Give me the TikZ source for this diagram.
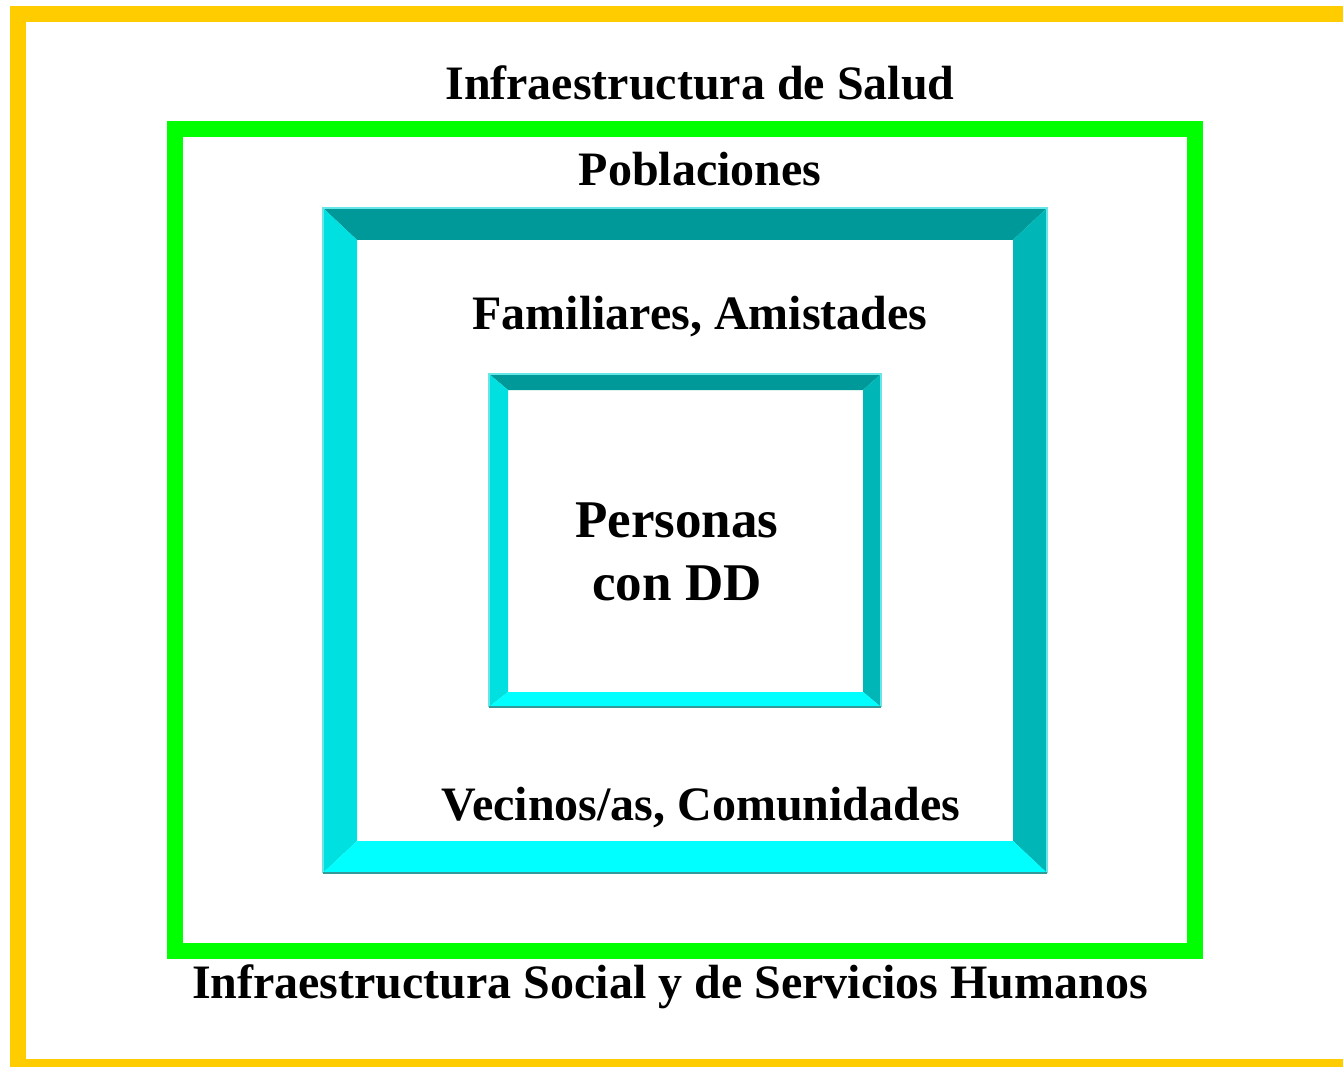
\documentclass[tikz,border=0pt]{standalone}
\usepackage{fontspec}
\setmainfont{Liberation Serif}
\definecolor{marco}{HTML}{FFCC00}
\definecolor{verde}{HTML}{00FF00}
\definecolor{cyarriba}{HTML}{009999}
\definecolor{cyizq}{HTML}{00E0E0}
\definecolor{cyder}{HTML}{00B6B6}
\definecolor{cyabajo}{HTML}{00FFFF}
\definecolor{bordeclaro}{HTML}{66E6E6}
\definecolor{bordeoscuro}{HTML}{339999}
\tikzset{
    rotulo/.style={font=\bfseries\fontsize{48}{56}\selectfont, inner sep=0pt, anchor=base},
    rotulogrande/.style={font=\bfseries\fontsize{53}{63}\selectfont, inner sep=0pt, anchor=base}
}

\begin{document}
\begin{tikzpicture}[x=1pt, y=-1pt]
        \useasboundingbox (0,0) rectangle (1343,1067);
        \clip (0,0) rectangle (1343,1067);
        \fill[white] (0,0) rectangle (1343,1067);

        % marcos exteriores
        \draw[marco, line width=16pt] (18,14) rectangle (1351,1067);
        \draw[verde, line width=16pt] (175,129) rectangle (1195,951);

        % marcos biselados
        \foreach \ox/\oy/\Ox/\Oy/\ix/\iy/\Ix/\Iy in {323/208/1047/873/357/240/1013/841, 489/374/881/707/508/390/863/692} {
            \fill[cyarriba] (\ox,\oy) -- (\Ox,\oy) -- (\Ix,\iy) -- (\ix,\iy) -- cycle;
            \fill[cyizq] (\ox,\oy) -- (\ix,\iy) -- (\ix,\Iy) -- (\ox,\Oy) -- cycle;
            \fill[cyder] (\Ox,\oy) -- (\Ox,\Oy) -- (\Ix,\Iy) -- (\Ix,\iy) -- cycle;
            \fill[cyabajo] (\ox,\Oy) -- (\ix,\Iy) -- (\Ix,\Iy) -- (\Ox,\Oy) -- cycle;
            \draw[bordeclaro, line width=1.5pt] (\ox,\Oy) -- (\ox,\oy) -- (\Ox,\oy) -- (\Ox,\Oy);
            \draw[bordeoscuro, line width=1.5pt] (\ox,\Oy) -- (\Ox,\Oy);
        }

        % textos
        \node[rotulo] (salud) at (700,100) {Infraestructura de Salud};
        \node[rotulo] (poblaciones) at (700,186) {Poblaciones};
        \node[rotulo] (familiares) at (700,329) {Familiares, Amistades};
        \node[rotulogrande] (personas) at (677,537) {Personas};
        \node[rotulogrande] (condd) at (677,600) {con DD};
        \node[rotulo] (vecinos) at (701,820) {Vecinos/as, Comunidades};
        \node[rotulo] (social) at (670,998) {Infraestructura Social y de Servicios Humanos};
\end{tikzpicture}
\end{document}
